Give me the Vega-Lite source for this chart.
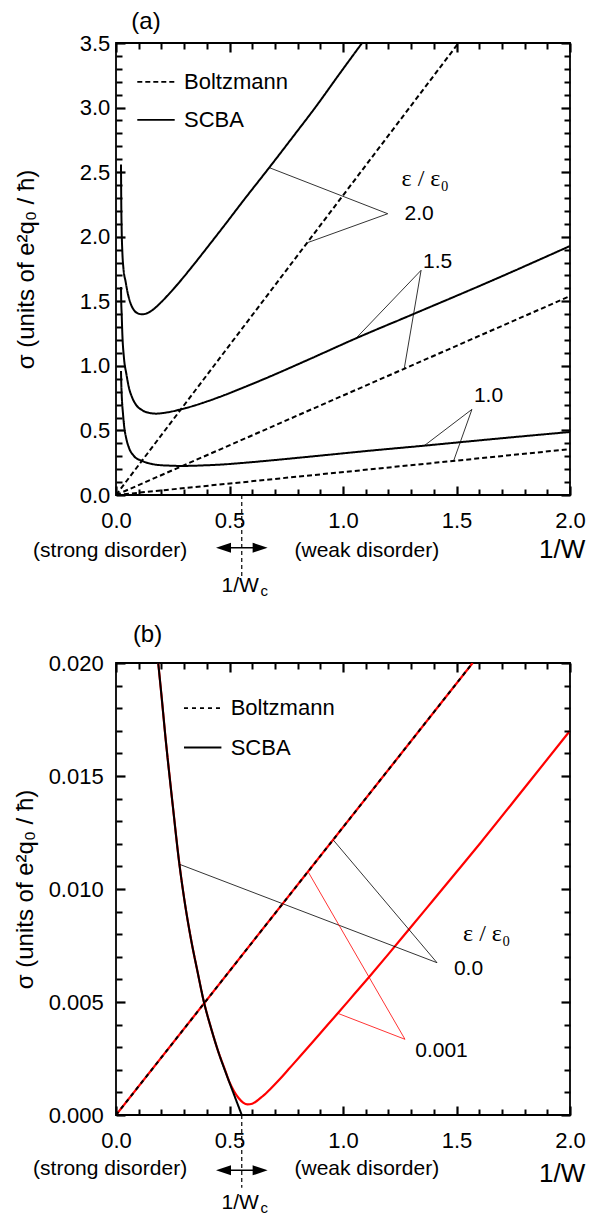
{
"$schema": "https://vega.github.io/schema/vega-lite/v6.json",
"padding": {"left": 12, "top": 9, "right": 2, "bottom": 2},
"spacing": 168,
"bounds": "flush",
"resolve": {"scale": {"strokeDash": "independent", "color": "independent"}},
"config": {
  "font": "Liberation Sans",
  "view": {"stroke": "black", "strokeWidth": 1.8},
  "axis": {"domain": false, "grid": false, "ticks": true, "zindex": 2, "tickColor": "#000000", "tickWidth": 2, "tickOpacity": 1, "labelFontSize": 22, "labelColor": "black", "labelFont": "Liberation Sans", "labelFlush": false, "labelOverlap": false, "titleFontSize": 24, "titleFontWeight": "normal", "titleColor": "black", "titleFont": "Liberation Sans"}
},
"datasets": {
  "curvesA": [
    {"eps":"2.0","kind":"Boltzmann","x":0,"y":0},{"eps":"2.0","kind":"Boltzmann","x":1.509,"y":3.5},
    {"eps":"1.5","kind":"Boltzmann","x":0,"y":0},{"eps":"1.5","kind":"Boltzmann","x":2.0,"y":1.54},
    {"eps":"1.0","kind":"Boltzmann","x":0,"y":0},{"eps":"1.0","kind":"Boltzmann","x":2.0,"y":0.355},
    {"eps":"2.0","kind":"SCBA","x":0.022,"y":2.56},{"eps":"2.0","kind":"SCBA","x":0.023,"y":2.3},{"eps":"2.0","kind":"SCBA","x":0.025,"y":2.05},{"eps":"2.0","kind":"SCBA","x":0.028,"y":1.88},{"eps":"2.0","kind":"SCBA","x":0.033,"y":1.75},{"eps":"2.0","kind":"SCBA","x":0.042,"y":1.655},{"eps":"2.0","kind":"SCBA","x":0.052,"y":1.56},{"eps":"2.0","kind":"SCBA","x":0.065,"y":1.48},{"eps":"2.0","kind":"SCBA","x":0.08,"y":1.43},{"eps":"2.0","kind":"SCBA","x":0.098,"y":1.405},{"eps":"2.0","kind":"SCBA","x":0.116,"y":1.399},{"eps":"2.0","kind":"SCBA","x":0.14,"y":1.41},{"eps":"2.0","kind":"SCBA","x":0.17,"y":1.445},{"eps":"2.0","kind":"SCBA","x":0.2,"y":1.495},{"eps":"2.0","kind":"SCBA","x":0.263,"y":1.615},{"eps":"2.0","kind":"SCBA","x":0.336,"y":1.77},{"eps":"2.0","kind":"SCBA","x":0.41,"y":1.935},{"eps":"2.0","kind":"SCBA","x":0.483,"y":2.1},{"eps":"2.0","kind":"SCBA","x":0.556,"y":2.268},{"eps":"2.0","kind":"SCBA","x":0.675,"y":2.535},{"eps":"2.0","kind":"SCBA","x":0.78,"y":2.775},{"eps":"2.0","kind":"SCBA","x":0.888,"y":3.025},{"eps":"2.0","kind":"SCBA","x":0.98,"y":3.25},{"eps":"2.0","kind":"SCBA","x":1.084,"y":3.5},
    {"eps":"1.5","kind":"SCBA","x":0.022,"y":1.61},{"eps":"1.5","kind":"SCBA","x":0.023,"y":1.5},{"eps":"1.5","kind":"SCBA","x":0.025,"y":1.4},{"eps":"1.5","kind":"SCBA","x":0.028,"y":1.244},{"eps":"1.5","kind":"SCBA","x":0.035,"y":1.063},{"eps":"1.5","kind":"SCBA","x":0.046,"y":0.934},{"eps":"1.5","kind":"SCBA","x":0.057,"y":0.831},{"eps":"1.5","kind":"SCBA","x":0.07,"y":0.76},{"eps":"1.5","kind":"SCBA","x":0.087,"y":0.702},{"eps":"1.5","kind":"SCBA","x":0.116,"y":0.656},{"eps":"1.5","kind":"SCBA","x":0.145,"y":0.636},{"eps":"1.5","kind":"SCBA","x":0.175,"y":0.63},{"eps":"1.5","kind":"SCBA","x":0.22,"y":0.638},{"eps":"1.5","kind":"SCBA","x":0.278,"y":0.66},{"eps":"1.5","kind":"SCBA","x":0.35,"y":0.695},{"eps":"1.5","kind":"SCBA","x":0.41,"y":0.73},{"eps":"1.5","kind":"SCBA","x":0.48,"y":0.775},{"eps":"1.5","kind":"SCBA","x":0.556,"y":0.828},{"eps":"1.5","kind":"SCBA","x":0.671,"y":0.912},{"eps":"1.5","kind":"SCBA","x":0.85,"y":1.05},{"eps":"1.5","kind":"SCBA","x":1.057,"y":1.213},{"eps":"1.5","kind":"SCBA","x":1.314,"y":1.404},{"eps":"1.5","kind":"SCBA","x":1.652,"y":1.657},{"eps":"1.5","kind":"SCBA","x":2.0,"y":1.928},
    {"eps":"1.0","kind":"SCBA","x":0.022,"y":0.96},{"eps":"1.0","kind":"SCBA","x":0.023,"y":0.88},{"eps":"1.0","kind":"SCBA","x":0.025,"y":0.78},{"eps":"1.0","kind":"SCBA","x":0.031,"y":0.625},{"eps":"1.0","kind":"SCBA","x":0.035,"y":0.547},{"eps":"1.0","kind":"SCBA","x":0.046,"y":0.431},{"eps":"1.0","kind":"SCBA","x":0.057,"y":0.366},{"eps":"1.0","kind":"SCBA","x":0.079,"y":0.302},{"eps":"1.0","kind":"SCBA","x":0.116,"y":0.263},{"eps":"1.0","kind":"SCBA","x":0.15,"y":0.243},{"eps":"1.0","kind":"SCBA","x":0.189,"y":0.232},{"eps":"1.0","kind":"SCBA","x":0.24,"y":0.227},{"eps":"1.0","kind":"SCBA","x":0.292,"y":0.225},{"eps":"1.0","kind":"SCBA","x":0.38,"y":0.229},{"eps":"1.0","kind":"SCBA","x":0.483,"y":0.238},{"eps":"1.0","kind":"SCBA","x":0.55,"y":0.247},{"eps":"1.0","kind":"SCBA","x":0.671,"y":0.266},{"eps":"1.0","kind":"SCBA","x":0.9,"y":0.305},{"eps":"1.0","kind":"SCBA","x":1.1,"y":0.34},{"eps":"1.0","kind":"SCBA","x":1.358,"y":0.382},{"eps":"1.0","kind":"SCBA","x":1.6,"y":0.423},{"eps":"1.0","kind":"SCBA","x":1.8,"y":0.456},{"eps":"1.0","kind":"SCBA","x":2.0,"y":0.488}
  ],
  "leadA": [
    {"grp":"2.0","ord":1,"x":0.675,"y":2.535},{"grp":"2.0","ord":2,"x":1.197,"y":2.178},{"grp":"2.0","ord":3,"x":0.844,"y":1.954},
    {"grp":"1.5","ord":1,"x":1.057,"y":1.213},{"grp":"1.5","ord":2,"x":1.344,"y":1.74},{"grp":"1.5","ord":3,"x":1.27,"y":0.981},
    {"grp":"1.0","ord":1,"x":1.358,"y":0.382},{"grp":"1.0","ord":2,"x":1.568,"y":0.663},{"grp":"1.0","ord":3,"x":1.487,"y":0.263}
  ],
  "textA": [
    {"label":"2.0","x":1.335,"y":2.178},{"label":"1.5","x":1.417,"y":1.807},{"label":"1.0","x":1.641,"y":0.767},
    {"label":"(strong disorder)","x":-0.026,"y":-0.434},{"label":"(weak disorder)","x":1.105,"y":-0.434},{"label":"1/W","x":0.547,"y":-0.705}
  ],
  "bigA": [{"label":"1/W","x":1.965,"y":-0.428}],
  "epsA": [{"label":"ε / ε₀","x":1.362,"y":2.445}],
  "panelA": [{"label":"(a)","x":0.132,"y":3.66}],
  "subA": [{"label":"c","x":0.653,"y":-0.743}],
  "shaftA": [{"x":0.4736,"x2":0.635,"y":-0.408}],
  "headA": [{"dir":"L","x":0.4736,"y":-0.408},{"dir":"R","x":0.635,"y":-0.408}],
  "vlineA": [{"x":0.554,"y":0,"y2":-0.64}],
  "curvesB": [
    {"eps":"0.001","kind":"Boltzmann","x":0,"y":0},{"eps":"0.001","kind":"Boltzmann","x":1.571,"y":0.02},
    {"eps":"0.0","kind":"Boltzmann","x":0,"y":0},{"eps":"0.0","kind":"Boltzmann","x":1.571,"y":0.02},
    {"eps":"0.0","kind":"SCBA","x":0.186,"y":0.02},{"eps":"0.0","kind":"SCBA","x":0.2,"y":0.0186},{"eps":"0.0","kind":"SCBA","x":0.219,"y":0.0166},{"eps":"0.0","kind":"SCBA","x":0.25,"y":0.0137},{"eps":"0.0","kind":"SCBA","x":0.278,"y":0.0112},{"eps":"0.0","kind":"SCBA","x":0.3,"y":0.0096},{"eps":"0.0","kind":"SCBA","x":0.33,"y":0.0078},{"eps":"0.0","kind":"SCBA","x":0.36,"y":0.0063},{"eps":"0.0","kind":"SCBA","x":0.385,"y":0.0051},{"eps":"0.0","kind":"SCBA","x":0.42,"y":0.0038},{"eps":"0.0","kind":"SCBA","x":0.454,"y":0.0027},{"eps":"0.0","kind":"SCBA","x":0.49,"y":0.0017},{"eps":"0.0","kind":"SCBA","x":0.52,"y":0.0009},{"eps":"0.0","kind":"SCBA","x":0.554,"y":0.0},
    {"eps":"0.001","kind":"SCBA","x":0.186,"y":0.02},{"eps":"0.001","kind":"SCBA","x":0.2,"y":0.0186},{"eps":"0.001","kind":"SCBA","x":0.219,"y":0.0166},{"eps":"0.001","kind":"SCBA","x":0.25,"y":0.0137},{"eps":"0.001","kind":"SCBA","x":0.278,"y":0.0112},{"eps":"0.001","kind":"SCBA","x":0.3,"y":0.0096},{"eps":"0.001","kind":"SCBA","x":0.33,"y":0.0078},{"eps":"0.001","kind":"SCBA","x":0.36,"y":0.0063},{"eps":"0.001","kind":"SCBA","x":0.385,"y":0.0051},{"eps":"0.001","kind":"SCBA","x":0.42,"y":0.0038},{"eps":"0.001","kind":"SCBA","x":0.454,"y":0.0027},{"eps":"0.001","kind":"SCBA","x":0.48,"y":0.002},{"eps":"0.001","kind":"SCBA","x":0.5,"y":0.00145},{"eps":"0.001","kind":"SCBA","x":0.52,"y":0.00105},{"eps":"0.001","kind":"SCBA","x":0.54,"y":0.00075},{"eps":"0.001","kind":"SCBA","x":0.56,"y":0.00055},{"eps":"0.001","kind":"SCBA","x":0.579,"y":0.00047},{"eps":"0.001","kind":"SCBA","x":0.6,"y":0.0005},{"eps":"0.001","kind":"SCBA","x":0.62,"y":0.00062},{"eps":"0.001","kind":"SCBA","x":0.64,"y":0.00078},{"eps":"0.001","kind":"SCBA","x":0.66,"y":0.00095},{"eps":"0.001","kind":"SCBA","x":0.68,"y":0.00115},{"eps":"0.001","kind":"SCBA","x":0.72,"y":0.00157},{"eps":"0.001","kind":"SCBA","x":0.76,"y":0.00202},{"eps":"0.001","kind":"SCBA","x":0.815,"y":0.00264},{"eps":"0.001","kind":"SCBA","x":0.9,"y":0.00362},{"eps":"0.001","kind":"SCBA","x":0.977,"y":0.0045},{"eps":"0.001","kind":"SCBA","x":1.05,"y":0.00535},{"eps":"0.001","kind":"SCBA","x":1.116,"y":0.00612},{"eps":"0.001","kind":"SCBA","x":1.2,"y":0.00712},{"eps":"0.001","kind":"SCBA","x":1.292,"y":0.00823},{"eps":"0.001","kind":"SCBA","x":1.373,"y":0.00921},{"eps":"0.001","kind":"SCBA","x":1.5,"y":0.01075},{"eps":"0.001","kind":"SCBA","x":1.608,"y":0.01207},{"eps":"0.001","kind":"SCBA","x":1.8,"y":0.01448},{"eps":"0.001","kind":"SCBA","x":2.0,"y":0.017}
  ],
  "leadB": [
    {"grp":"0.0","ord":1,"x":0.278,"y":0.0111},{"grp":"0.0","ord":2,"x":1.414,"y":0.00674},{"grp":"0.0","ord":3,"x":0.957,"y":0.01217},
    {"grp":"0.001","ord":1,"x":0.977,"y":0.0045},{"grp":"0.001","ord":2,"x":1.273,"y":0.00335},{"grp":"0.001","ord":3,"x":0.847,"y":0.01075}
  ],
  "textB": [
    {"label":"0.0","x":1.553,"y":0.00645},{"label":"0.001","x":1.434,"y":0.00283},
    {"label":"(strong disorder)","x":-0.026,"y":-0.0024},{"label":"(weak disorder)","x":1.105,"y":-0.0024},{"label":"1/W","x":0.547,"y":-0.00388}
  ],
  "bigB": [{"label":"1/W","x":1.965,"y":-0.00262}],
  "epsB": [{"label":"ε / ε₀","x":1.633,"y":0.008}],
  "panelB": [{"label":"(b)","x":0.139,"y":0.02124}],
  "subB": [{"label":"c","x":0.653,"y":-0.0041}],
  "shaftB": [{"x":0.4736,"x2":0.635,"y":-0.00245}],
  "headB": [{"dir":"L","x":0.4736,"y":-0.00245},{"dir":"R","x":0.635,"y":-0.00245}],
  "vlineB": [{"x":0.554,"y":0,"y2":-0.00322}]
},
"vconcat": [
  {
    "width": 454, "height": 452,
    "resolve": {"axis": {"x": "independent", "y": "independent"}},
    "layer": [
      {"data": {"name": "curvesA"},
       "mark": {"type": "line", "strokeWidth": 2, "color": "black", "clip": true, "interpolate": "monotone"},
       "encoding": {
         "x": {"field": "x", "type": "quantitative", "scale": {"domain": [0, 2], "nice": false},
               "axis": {"orient": "bottom", "zindex": 2, "values": [0,0.5,1,1.5,2], "offset": -9, "tickSize": 9, "tickColor": "#000000", "tickWidth": 2.2, "format": ".1f", "labelPadding": 15, "title": null}},
         "y": {"field": "y", "type": "quantitative", "scale": {"domain": [0, 3.5], "nice": false},
               "axis": {"orient": "left", "zindex": 2, "values": [0,0.5,1,1.5,2,2.5,3,3.5], "offset": -9, "tickSize": 9, "tickColor": "#000000", "tickWidth": 2.2, "format": ".1f", "labelPadding": 6.2, "title": "σ (units of e²q₀ / ħ)", "titlePadding": 41}},
         "strokeDash": {"field": "kind", "type": "nominal", "scale": {"domain": ["Boltzmann", "SCBA"], "range": [[5, 3], [1, 0]]},
                        "legend": {"orient": "none", "legendX": 20, "legendY": 18.8, "title": null, "symbolType": "stroke", "symbolSize": 1400, "symbolStrokeWidth": 1.8, "symbolStrokeColor": "black", "labelFontSize": 22, "labelOffset": 8, "rowPadding": 7, "padding": 0, "labelColor": "black", "labelFont": "Liberation Sans"}},
         "detail": {"field": "eps"}
       }},
      {"data": {"name": "leadA"},
       "mark": {"type": "line", "strokeWidth": 0.8, "color": "black"},
       "encoding": {
         "x": {"field": "x", "type": "quantitative", "scale": {"domain": [0, 2], "nice": false},
               "axis": {"orient": "top", "zindex": 2, "values": [0,0.5,1,1.5,2], "offset": -9, "tickSize": 9, "tickColor": "#000000", "tickWidth": 2.2, "labels": false, "title": null}},
         "y": {"field": "y", "type": "quantitative", "scale": {"domain": [0, 3.5], "nice": false},
               "axis": {"orient": "right", "zindex": 2, "values": [0,0.5,1,1.5,2,2.5,3,3.5], "offset": -9, "tickSize": 9, "tickColor": "#000000", "tickWidth": 2.2, "labels": false, "title": null}},
         "order": {"field": "ord", "type": "quantitative"},
         "detail": {"field": "grp"}
       }},
      {"data": {"name": "vlineA"},
       "mark": {"type": "rule", "strokeDash": [4, 3], "strokeWidth": 1.2, "color": "black"},
       "encoding": {
         "x": {"field": "x", "type": "quantitative", "scale": {"domain": [0, 2], "nice": false},
               "axis": {"orient": "bottom", "zindex": 2, "values": [0.1,0.2,0.3,0.4,0.6,0.7,0.8,0.9,1.1,1.2,1.3,1.4,1.6,1.7,1.8,1.9], "offset": -6, "tickSize": 6, "tickColor": "#000000", "tickWidth": 2, "labels": false, "title": null}},
         "y": {"field": "y", "type": "quantitative", "scale": {"domain": [0, 3.5], "nice": false},
               "axis": {"orient": "left", "zindex": 2, "values": [0.1,0.2,0.3,0.4,0.6,0.7,0.8,0.9,1.1,1.2,1.3,1.4,1.6,1.7,1.8,1.9,2.1,2.2,2.3,2.4,2.6,2.7,2.8,2.9,3.1,3.2,3.3,3.4], "offset": -6, "tickSize": 6, "tickColor": "#000000", "tickWidth": 2, "labels": false, "title": null}},
         "y2": {"field": "y2"}
       }},
      {"data": {"name": "shaftA"},
       "mark": {"type": "rule", "strokeWidth": 1.5, "color": "black"},
       "encoding": {
         "x": {"field": "x", "type": "quantitative", "scale": {"domain": [0, 2], "nice": false},
               "axis": {"orient": "top", "zindex": 2, "values": [0.1,0.2,0.3,0.4,0.6,0.7,0.8,0.9,1.1,1.2,1.3,1.4,1.6,1.7,1.8,1.9], "offset": -6, "tickSize": 6, "tickColor": "#000000", "tickWidth": 2, "labels": false, "title": null}},
         "x2": {"field": "x2"},
         "y": {"field": "y", "type": "quantitative", "scale": {"domain": [0, 3.5], "nice": false},
               "axis": {"orient": "right", "zindex": 2, "values": [0.1,0.2,0.3,0.4,0.6,0.7,0.8,0.9,1.1,1.2,1.3,1.4,1.6,1.7,1.8,1.9,2.1,2.2,2.3,2.4,2.6,2.7,2.8,2.9,3.1,3.2,3.3,3.4], "offset": -6, "tickSize": 6, "tickColor": "#000000", "tickWidth": 2, "labels": false, "title": null}}
       }},
      {"data": {"name": "headA"},
       "mark": {"type": "point", "filled": true, "color": "black", "opacity": 1, "size": 225},
       "encoding": {
         "x": {"field": "x", "type": "quantitative", "scale": {"domain": [0, 2], "nice": false}, "axis": null},
         "y": {"field": "y", "type": "quantitative", "scale": {"domain": [0, 3.5], "nice": false}, "axis": null},
         "shape": {"field": "dir", "type": "nominal", "scale": {"domain": ["L", "R"], "range": ["M-1,0L1,-0.667L1,0.667Z", "M1,0L-1,-0.667L-1,0.667Z"]}, "legend": null}
       }},
      {"data": {"name": "textA"},
       "mark": {"type": "text", "fontSize": 21, "font": "Liberation Sans", "color": "black"},
       "encoding": {
         "x": {"field": "x", "type": "quantitative", "scale": {"domain": [0, 2], "nice": false}, "axis": null},
         "y": {"field": "y", "type": "quantitative", "scale": {"domain": [0, 3.5], "nice": false}, "axis": null},
         "text": {"field": "label"}
       }},
      {"data": {"name": "bigA"},
       "mark": {"type": "text", "fontSize": 26, "font": "Liberation Sans", "color": "black"},
       "encoding": {
         "x": {"field": "x", "type": "quantitative", "scale": {"domain": [0, 2], "nice": false}, "axis": null},
         "y": {"field": "y", "type": "quantitative", "scale": {"domain": [0, 3.5], "nice": false}, "axis": null},
         "text": {"field": "label"}
       }},
      {"data": {"name": "epsA"},
       "mark": {"type": "text", "fontSize": 24, "font": "Liberation Serif", "color": "black"},
       "encoding": {
         "x": {"field": "x", "type": "quantitative", "scale": {"domain": [0, 2], "nice": false}, "axis": null},
         "y": {"field": "y", "type": "quantitative", "scale": {"domain": [0, 3.5], "nice": false}, "axis": null},
         "text": {"field": "label"}
       }},
      {"data": {"name": "panelA"},
       "mark": {"type": "text", "fontSize": 24, "font": "Liberation Sans", "color": "black"},
       "encoding": {
         "x": {"field": "x", "type": "quantitative", "scale": {"domain": [0, 2], "nice": false}, "axis": null},
         "y": {"field": "y", "type": "quantitative", "scale": {"domain": [0, 3.5], "nice": false}, "axis": null},
         "text": {"field": "label"}
       }},
      {"data": {"name": "subA"},
       "mark": {"type": "text", "fontSize": 15, "font": "Liberation Sans", "color": "black"},
       "encoding": {
         "x": {"field": "x", "type": "quantitative", "scale": {"domain": [0, 2], "nice": false}, "axis": null},
         "y": {"field": "y", "type": "quantitative", "scale": {"domain": [0, 3.5], "nice": false}, "axis": null},
         "text": {"field": "label"}
       }}
    ]
  },
  {
    "width": 454, "height": 452,
    "resolve": {"axis": {"x": "independent", "y": "independent"}},
    "layer": [
      {"data": {"name": "curvesB"},
       "transform": [{"filter": "datum.eps == '0.001'"}],
       "mark": {"type": "line", "strokeWidth": 2.2, "color": "#ff0000", "clip": true, "interpolate": "monotone"},
       "encoding": {
         "x": {"field": "x", "type": "quantitative", "scale": {"domain": [0, 2], "nice": false},
               "axis": {"orient": "bottom", "zindex": 2, "values": [0,0.5,1,1.5,2], "offset": -9, "tickSize": 9, "tickColor": "#000000", "tickWidth": 2.2, "format": ".1f", "labelPadding": 15, "title": null}},
         "y": {"field": "y", "type": "quantitative", "scale": {"domain": [0, 0.02], "nice": false},
               "axis": {"orient": "left", "zindex": 2, "values": [0,0.005,0.01,0.015,0.02], "offset": -9, "tickSize": 9, "tickColor": "#000000", "tickWidth": 2.2, "format": ".3f", "labelPadding": 12.8, "title": "σ (units of e²q₀ / ħ)", "titlePadding": 10.5}},
         "detail": {"field": "kind"}
       }},
      {"data": {"name": "curvesB"},
       "transform": [{"filter": "datum.eps == '0.0'"}],
       "mark": {"type": "line", "strokeWidth": 2, "color": "black", "clip": true, "interpolate": "monotone"},
       "encoding": {
         "x": {"field": "x", "type": "quantitative", "scale": {"domain": [0, 2], "nice": false},
               "axis": {"orient": "top", "zindex": 2, "values": [0,0.5,1,1.5,2], "offset": -9, "tickSize": 9, "tickColor": "#000000", "tickWidth": 2.2, "labels": false, "title": null}},
         "y": {"field": "y", "type": "quantitative", "scale": {"domain": [0, 0.02], "nice": false},
               "axis": {"orient": "right", "zindex": 2, "values": [0,0.005,0.01,0.015,0.02], "offset": -9, "tickSize": 9, "tickColor": "#000000", "tickWidth": 2.2, "labels": false, "title": null}},
         "strokeDash": {"field": "kind", "type": "nominal", "scale": {"domain": ["Boltzmann", "SCBA"], "range": [[4, 4], [1, 0]]},
                        "legend": {"orient": "none", "legendX": 66.7, "legendY": 25.1, "title": null, "symbolType": "stroke", "symbolSize": 1400, "symbolStrokeWidth": 1.8, "symbolStrokeColor": "black", "labelFontSize": 22, "labelOffset": 8, "rowPadding": 8.4, "padding": 0, "labelColor": "black", "labelFont": "Liberation Sans"}}
       }},
      {"data": {"name": "leadB"},
       "mark": {"type": "line", "strokeWidth": 0.8},
       "encoding": {
         "x": {"field": "x", "type": "quantitative", "scale": {"domain": [0, 2], "nice": false},
               "axis": {"orient": "bottom", "zindex": 2, "values": [0.1,0.2,0.3,0.4,0.6,0.7,0.8,0.9,1.1,1.2,1.3,1.4,1.6,1.7,1.8,1.9], "offset": -6, "tickSize": 6, "tickColor": "#000000", "tickWidth": 2, "labels": false, "title": null}},
         "y": {"field": "y", "type": "quantitative", "scale": {"domain": [0, 0.02], "nice": false},
               "axis": {"orient": "left", "zindex": 2, "values": [0.001,0.002,0.003,0.004,0.006,0.007,0.008,0.009,0.011,0.012,0.013,0.014,0.016,0.017,0.018,0.019], "offset": -6, "tickSize": 6, "tickColor": "#000000", "tickWidth": 2, "labels": false, "title": null}},
         "color": {"field": "grp", "type": "nominal", "scale": {"domain": ["0.0", "0.001"], "range": ["black", "#ff0000"]}, "legend": null},
         "order": {"field": "ord", "type": "quantitative"}
       }},
      {"data": {"name": "vlineB"},
       "mark": {"type": "rule", "strokeDash": [4, 3], "strokeWidth": 1.2, "color": "black"},
       "encoding": {
         "x": {"field": "x", "type": "quantitative", "scale": {"domain": [0, 2], "nice": false},
               "axis": {"orient": "top", "zindex": 2, "values": [0.1,0.2,0.3,0.4,0.6,0.7,0.8,0.9,1.1,1.2,1.3,1.4,1.6,1.7,1.8,1.9], "offset": -6, "tickSize": 6, "tickColor": "#000000", "tickWidth": 2, "labels": false, "title": null}},
         "y": {"field": "y", "type": "quantitative", "scale": {"domain": [0, 0.02], "nice": false},
               "axis": {"orient": "right", "zindex": 2, "values": [0.001,0.002,0.003,0.004,0.006,0.007,0.008,0.009,0.011,0.012,0.013,0.014,0.016,0.017,0.018,0.019], "offset": -6, "tickSize": 6, "tickColor": "#000000", "tickWidth": 2, "labels": false, "title": null}},
         "y2": {"field": "y2"}
       }},
      {"data": {"name": "shaftB"},
       "mark": {"type": "rule", "strokeWidth": 1.5, "color": "black"},
       "encoding": {
         "x": {"field": "x", "type": "quantitative", "scale": {"domain": [0, 2], "nice": false}, "axis": null},
         "x2": {"field": "x2"},
         "y": {"field": "y", "type": "quantitative", "scale": {"domain": [0, 0.02], "nice": false}, "axis": null}
       }},
      {"data": {"name": "headB"},
       "mark": {"type": "point", "filled": true, "color": "black", "opacity": 1, "size": 225},
       "encoding": {
         "x": {"field": "x", "type": "quantitative", "scale": {"domain": [0, 2], "nice": false}, "axis": null},
         "y": {"field": "y", "type": "quantitative", "scale": {"domain": [0, 0.02], "nice": false}, "axis": null},
         "shape": {"field": "dir", "type": "nominal", "scale": {"domain": ["L", "R"], "range": ["M-1,0L1,-0.667L1,0.667Z", "M1,0L-1,-0.667L-1,0.667Z"]}, "legend": null}
       }},
      {"data": {"name": "textB"},
       "mark": {"type": "text", "fontSize": 21, "font": "Liberation Sans", "color": "black"},
       "encoding": {
         "x": {"field": "x", "type": "quantitative", "scale": {"domain": [0, 2], "nice": false}, "axis": null},
         "y": {"field": "y", "type": "quantitative", "scale": {"domain": [0, 0.02], "nice": false}, "axis": null},
         "text": {"field": "label"}
       }},
      {"data": {"name": "bigB"},
       "mark": {"type": "text", "fontSize": 26, "font": "Liberation Sans", "color": "black"},
       "encoding": {
         "x": {"field": "x", "type": "quantitative", "scale": {"domain": [0, 2], "nice": false}, "axis": null},
         "y": {"field": "y", "type": "quantitative", "scale": {"domain": [0, 0.02], "nice": false}, "axis": null},
         "text": {"field": "label"}
       }},
      {"data": {"name": "epsB"},
       "mark": {"type": "text", "fontSize": 24, "font": "Liberation Serif", "color": "black"},
       "encoding": {
         "x": {"field": "x", "type": "quantitative", "scale": {"domain": [0, 2], "nice": false}, "axis": null},
         "y": {"field": "y", "type": "quantitative", "scale": {"domain": [0, 0.02], "nice": false}, "axis": null},
         "text": {"field": "label"}
       }},
      {"data": {"name": "panelB"},
       "mark": {"type": "text", "fontSize": 24, "font": "Liberation Sans", "color": "black"},
       "encoding": {
         "x": {"field": "x", "type": "quantitative", "scale": {"domain": [0, 2], "nice": false}, "axis": null},
         "y": {"field": "y", "type": "quantitative", "scale": {"domain": [0, 0.02], "nice": false}, "axis": null},
         "text": {"field": "label"}
       }},
      {"data": {"name": "subB"},
       "mark": {"type": "text", "fontSize": 15, "font": "Liberation Sans", "color": "black"},
       "encoding": {
         "x": {"field": "x", "type": "quantitative", "scale": {"domain": [0, 2], "nice": false}, "axis": null},
         "y": {"field": "y", "type": "quantitative", "scale": {"domain": [0, 0.02], "nice": false}, "axis": null},
         "text": {"field": "label"}
       }}
    ]
  }
]
}
